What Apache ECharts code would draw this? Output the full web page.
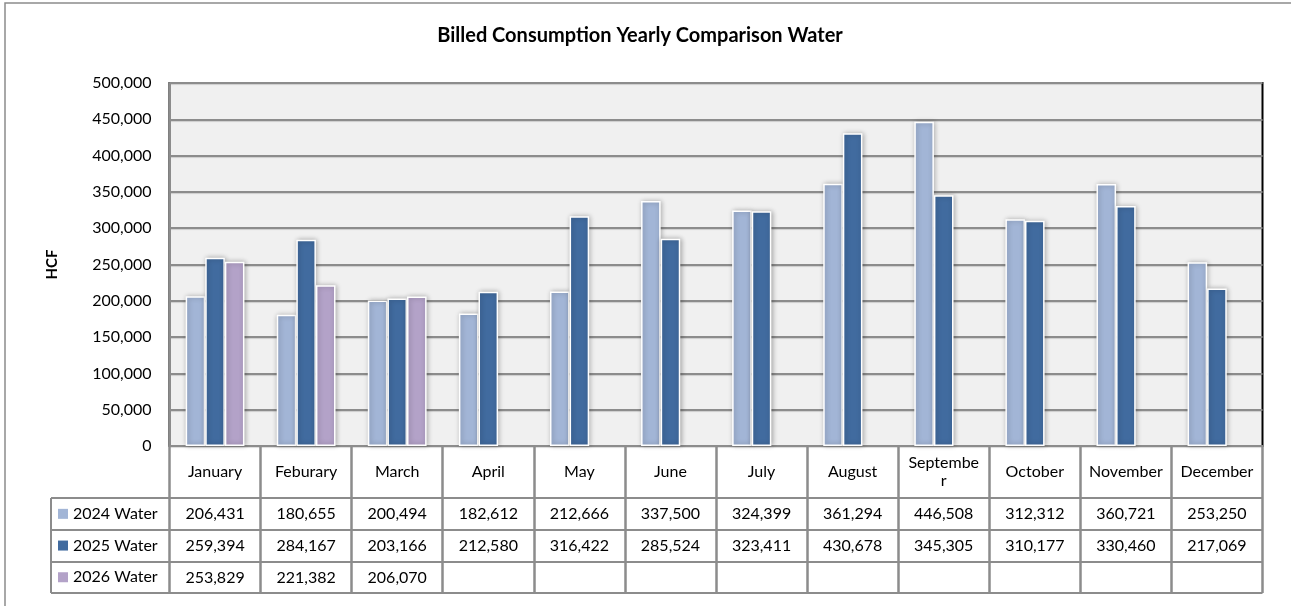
<!DOCTYPE html>
<html>
<head>
<meta charset="utf-8">
<script src="https://cdn.jsdelivr.net/npm/echarts@6/dist/echarts.min.js"></script>
<style>
html,body{margin:0;padding:0;background:#fff;}
#chart{width:1291px;height:606px;}
</style>
</head>
<body>
<div id="chart"></div>
<script>
const months = ['January','Feburary','March','April','May','June','July','August','September','October','November','December'];
const seriesNames = ['2024 Water','2025 Water','2026 Water'];
const water2024 = [206431,180655,200494,182612,212666,337500,324399,361294,446508,312312,360721,253250];
const water2025 = [259394,284167,203166,212580,316422,285524,323411,430678,345305,310177,330460,217069];
const water2026 = [253829,221382,206070,null,null,null,null,null,null,null,null,null];
const yTicks = [0,50000,100000,150000,200000,250000,300000,350000,400000,450000,500000];
const colors = ['#a2b5d6','#416b9f','#b3a2c8'];

const FONT = 'Lato';
const fmt = v => (v === null || v === undefined) ? '' : v.toLocaleString('en-US');

const GRID = {left:169.5, top:83, right:28.5, bottom:160};
const ROWS = [498, 530, 562, 593]; // table row boundaries below header
const TABLE_LEFT = 51;
const LINE = '#8c8c8c';

const chart = echarts.init(document.getElementById('chart'), null, {renderer:'canvas'});
const allData = [water2024, water2025, water2026];

chart.setOption({
  animation:false,
  backgroundColor:'#ffffff',
  textStyle:{fontFamily:FONT},
  title:{
    text:'Billed Consumption Yearly Comparison Water',
    left:640, top:26, padding:0, textAlign:'center',
    textStyle:{fontFamily:FONT, fontSize:20, fontWeight:'bold', color:'#000'}
  },
  legend:{
    orient:'vertical', left:53, top:ROWS[0]-5, itemGap:0,
    itemWidth:10, itemHeight:10, icon:'rect',
    data:seriesNames,
    itemStyle:{borderWidth:0, shadowBlur:0},
    textStyle:{fontFamily:FONT, fontSize:16, lineHeight:31.7, color:'#000'}
  },
  grid:{
    left:GRID.left, top:GRID.top, right:GRID.right, bottom:GRID.bottom,
    show:true, backgroundColor:'#f0f0f0', borderColor:'#000', borderWidth:2
  },
  xAxis:{
    type:'category', data:months,
    axisLine:{show:true, lineStyle:{color:LINE, width:2}},
    axisTick:{show:true, interval:0, alignWithLabel:false, length:ROWS[3]-(606-GRID.bottom), lineStyle:{color:LINE, width:2.5}},
    axisLabel:{
      interval:0, margin:26, verticalAlign:'middle', lineHeight:18,
      fontFamily:FONT, fontSize:16, color:'#000',
      formatter: v => v === 'September' ? 'Septembe\nr' : v
    },
    splitLine:{show:false}
  },
  yAxis:{
    type:'value', min:yTicks[0], max:yTicks[yTicks.length-1], interval:yTicks[1]-yTicks[0],
    name:'HCF', nameLocation:'middle', nameGap:110, nameRotate:90,
    nameTextStyle:{fontFamily:FONT, fontSize:15, fontWeight:'bold', color:'#000'},
    axisLine:{show:true, lineStyle:{color:LINE, width:2}},
    axisTick:{show:false},
    axisLabel:{margin:18, fontFamily:FONT, fontSize:16, color:'#000', formatter: v => fmt(v)},
    splitLine:{show:true, lineStyle:{color:LINE, width:2, shadowColor:'rgba(0,0,0,0.15)', shadowOffsetY:1, shadowBlur:1}}
  },
  series: seriesNames.map((n,i)=>({
    name:n, type:'bar', data:allData[i],
    barWidth:19.6, barGap:'0%',
    itemStyle:{color:colors[i], borderColor:'#ffffff', borderWidth:1.5,
      shadowColor:'rgba(0,0,0,0.3)', shadowBlur:5, shadowOffsetX:1, shadowOffsetY:0}
  }))
});

// Data table (drawn with graphic elements positioned from the category axis)
const graphics = [];
const plotRight = 1291 - GRID.right;
// outer chart border (left/top)
graphics.push({type:'rect', shape:{x:5, y:3, width:1400, height:800}, style:{fill:null, stroke:'#8c8c8c', lineWidth:1.5}, z:100, silent:true});
// horizontal table lines
ROWS.forEach(y=>{
  graphics.push({type:'line', shape:{x1:TABLE_LEFT, y1:y, x2:plotRight, y2:y}, style:{stroke:LINE, lineWidth:2}, z:100, silent:true});
});
graphics.push({type:'line', shape:{x1:TABLE_LEFT, y1:ROWS[0], x2:TABLE_LEFT, y2:ROWS[3]}, style:{stroke:LINE, lineWidth:2}, z:100, silent:true});
months.forEach((m,ci)=>{
  const cx = chart.convertToPixel({xAxisIndex:0}, m);
  allData.forEach((arr,ri)=>{
    const cy = (ROWS[ri]+ROWS[ri+1])/2;
    graphics.push({type:'text', x:cx, y:cy, style:{text:fmt(arr[ci]), fill:'#000', font:'16px '+FONT, textAlign:'center', textVerticalAlign:'middle'}, z:100, silent:true});
  });
});
chart.setOption({graphic:graphics});
</script>
</body>
</html>
